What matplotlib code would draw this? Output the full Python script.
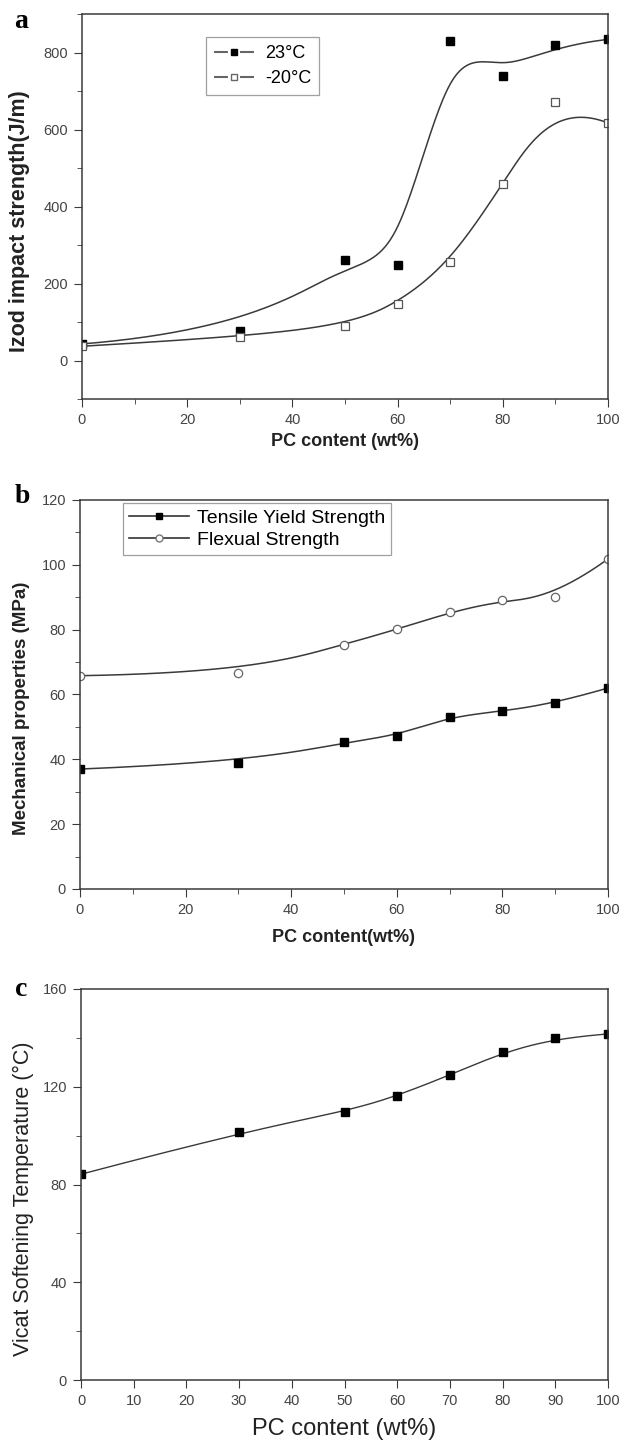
import numpy as np
import matplotlib.pyplot as plt
from matplotlib.lines import Line2D
from matplotlib.ticker import MultipleLocator

plt.rcParams['font.family'] = ['Liberation Sans', 'DejaVu Sans']

# panel a - izod impact strength
pc_a = [0, 30, 50, 60, 70, 80, 90, 100]
izod_23 = [43, 76, 260, 249, 830, 739, 819, 834]
izod_m20 = [37, 61, 89, 148, 255, 459, 671, 617]

# panel b - mechanical properties
pc_b = [0, 30, 50, 60, 70, 80, 90, 100]
tensile = [37.0, 39.0, 45.2, 47.3, 53.2, 54.8, 57.3, 62.0]
flexural = [65.8, 66.6, 75.4, 80.1, 85.3, 89.1, 90.1, 101.8]

# panel c - vicat softening temperature
pc_c = [0, 30, 50, 60, 70, 80, 90, 100]
vicat = [84.2, 101.3, 109.6, 116.3, 124.8, 134.1, 139.9, 141.6]


def bspline(xs, ys, n=400):
    # clamped cubic B-spline using data points as control points (Origin style)
    P = np.column_stack([xs, ys]).astype(float)
    k = 3
    m = len(P)
    knots = np.concatenate([np.zeros(k), np.linspace(0, 1, m - k + 1), np.ones(k)])
    t = np.linspace(0, 1, n, endpoint=False)

    def N(i, p):
        if p == 0:
            return np.where((knots[i] <= t) & (t < knots[i + 1]), 1.0, 0.0)
        out = np.zeros_like(t)
        d1 = knots[i + p] - knots[i]
        d2 = knots[i + p + 1] - knots[i + 1]
        if d1 > 0:
            out += (t - knots[i]) / d1 * N(i, p - 1)
        if d2 > 0:
            out += (knots[i + p + 1] - t) / d2 * N(i + 1, p - 1)
        return out

    pts = np.zeros((len(t), 2))
    for i in range(m):
        b = N(i, k)
        pts += b[:, None] * P[i]
    pts = np.vstack([pts, P[-1]])
    return pts[:, 0], pts[:, 1]


LINE = '#3a3a3a'
TICK = '#444444'
LAB = '#222222'

fig = plt.figure(figsize=(6.2, 14.42), dpi=100)


def style(ax):
    for s in ax.spines.values():
        s.set_color(LINE)
        s.set_linewidth(1.1)
    ax.tick_params(which='both', direction='out', top=False, right=False,
                   color=LINE, labelcolor=TICK, labelsize=10.5)
    ax.tick_params(which='major', length=6, pad=4)
    ax.tick_params(which='minor', length=3.5)


# ---- a ----
ax1 = fig.add_axes([82 / 620, 1 - 399 / 1442, 526 / 620, 385 / 1442])
x, y = bspline(pc_a, izod_23)
ax1.plot(x, y, color=LINE, lw=1.1)
x, y = bspline(pc_a, izod_m20)
ax1.plot(x, y, color=LINE, lw=1.1)
ax1.plot(pc_a, izod_23, 's', color='black', ms=5.5)
ax1.plot(pc_a, izod_m20, 's', mfc='white', mec='#555555', mew=0.9, ms=5.5)
ax1.set_xlim(0, 100)
ax1.set_ylim(-100, 900)
ax1.set_yticks([0, 200, 400, 600, 800])
ax1.xaxis.set_minor_locator(MultipleLocator(10))
ax1.yaxis.set_minor_locator(MultipleLocator(100))
style(ax1)
ax1.set_xlabel('PC content (wt%)', fontsize=13, fontweight='bold', color=LAB)
ax1.set_ylabel('Izod impact strength(J/m)', fontsize=15.5, fontweight='bold', color=LAB)
ax1.xaxis.set_label_coords(0.5, -0.088)
ax1.yaxis.set_label_coords(-0.099, 0.462)
h1 = [Line2D([], [], color='#666666', lw=1.5, ls=(0, (6.7, 5.8)), marker='s', ms=5,
             mfc='black', mec='black'),
      Line2D([], [], color='#666666', lw=1.5, ls=(0, (6.7, 5.8)), marker='s', ms=5,
             mfc='white', mec='#666666')]
leg = ax1.legend(h1, ['23°C', '-20°C'], loc='upper left', bbox_to_anchor=(0.236, 0.940),
                 borderaxespad=0, fontsize=13, frameon=True, fancybox=False,
                 edgecolor='#888888', handlelength=2.2, handletextpad=0.6, borderpad=0.45,
                 labelspacing=0.45)
leg.get_frame().set_linewidth(0.9)
fig.text(21 / 620, 1 - 22 / 1442, 'a', fontsize=20, fontweight='bold', family='Liberation Serif',
         ha='center', va='center')

# ---- b ----
ax2 = fig.add_axes([80 / 620, 1 - 889 / 1442, 528 / 620, 389 / 1442])
x, y = bspline(pc_b, tensile)
ax2.plot(x, y, color=LINE, lw=1.1)
x, y = bspline(pc_b, flexural)
ax2.plot(x, y, color=LINE, lw=1.1)
ax2.plot(pc_b, tensile, 's', color='black', ms=5.5)
ax2.plot(pc_b, flexural, 'o', mfc='white', mec='#666666', mew=0.9, ms=6)
ax2.set_xlim(0, 100)
ax2.set_ylim(0, 120)
ax2.xaxis.set_major_locator(MultipleLocator(20))
ax2.xaxis.set_minor_locator(MultipleLocator(10))
ax2.yaxis.set_major_locator(MultipleLocator(20))
ax2.yaxis.set_minor_locator(MultipleLocator(10))
style(ax2)
ax2.set_xlabel('PC content(wt%)', fontsize=13, fontweight='bold', color=LAB)
ax2.set_ylabel('Mechanical properties (MPa)', fontsize=13.5, fontweight='bold', color=LAB)
ax2.xaxis.set_label_coords(0.5, -0.103)
ax2.yaxis.set_label_coords(-0.095, 0.465)
h2 = [Line2D([], [], color='#333333', lw=1.2, marker='s', ms=5, mfc='black', mec='black'),
      Line2D([], [], color='#333333', lw=1.2, marker='o', ms=5, mfc='white', mec='#777777')]
leg = ax2.legend(h2, ['Tensile Yield Strength', 'Flexual Strength'], loc='upper left',
                 bbox_to_anchor=(0.081, 0.992), borderaxespad=0, fontsize=14, frameon=True,
                 fancybox=False, edgecolor='#888888', handlelength=3.1, handletextpad=0.4,
                 borderpad=0.3, labelspacing=0.25)
leg.get_frame().set_linewidth(0.9)
fig.text(22 / 620, 1 - 496 / 1442, 'b', fontsize=20, fontweight='bold', family='Liberation Serif',
         ha='center', va='center')

# ---- c ----
ax3 = fig.add_axes([81 / 620, 1 - 1380 / 1442, 527 / 620, 391 / 1442])
x, y = bspline(pc_c, vicat)
ax3.plot(x, y, color=LINE, lw=1.0)
ax3.plot(pc_c, vicat, 's', color='black', ms=5.5)
ax3.set_xlim(0, 100)
ax3.set_ylim(0, 160)
ax3.xaxis.set_major_locator(MultipleLocator(10))
ax3.yaxis.set_major_locator(MultipleLocator(40))
ax3.yaxis.set_minor_locator(MultipleLocator(20))
style(ax3)
ax3.set_xlabel('PC content (wt%)', fontsize=17, color=LAB)
ax3.set_ylabel('Vicat Softening Temperature (°C)', fontsize=15.5, color=LAB)
ax3.xaxis.set_label_coords(0.5, -0.098)
ax3.yaxis.set_label_coords(-0.089, 0.463)
fig.text(21 / 620, 1 - 990 / 1442, 'c', fontsize=20, fontweight='bold', family='Liberation Serif',
         ha='center', va='center')

fig.savefig('out.png', dpi=100, facecolor='white')
